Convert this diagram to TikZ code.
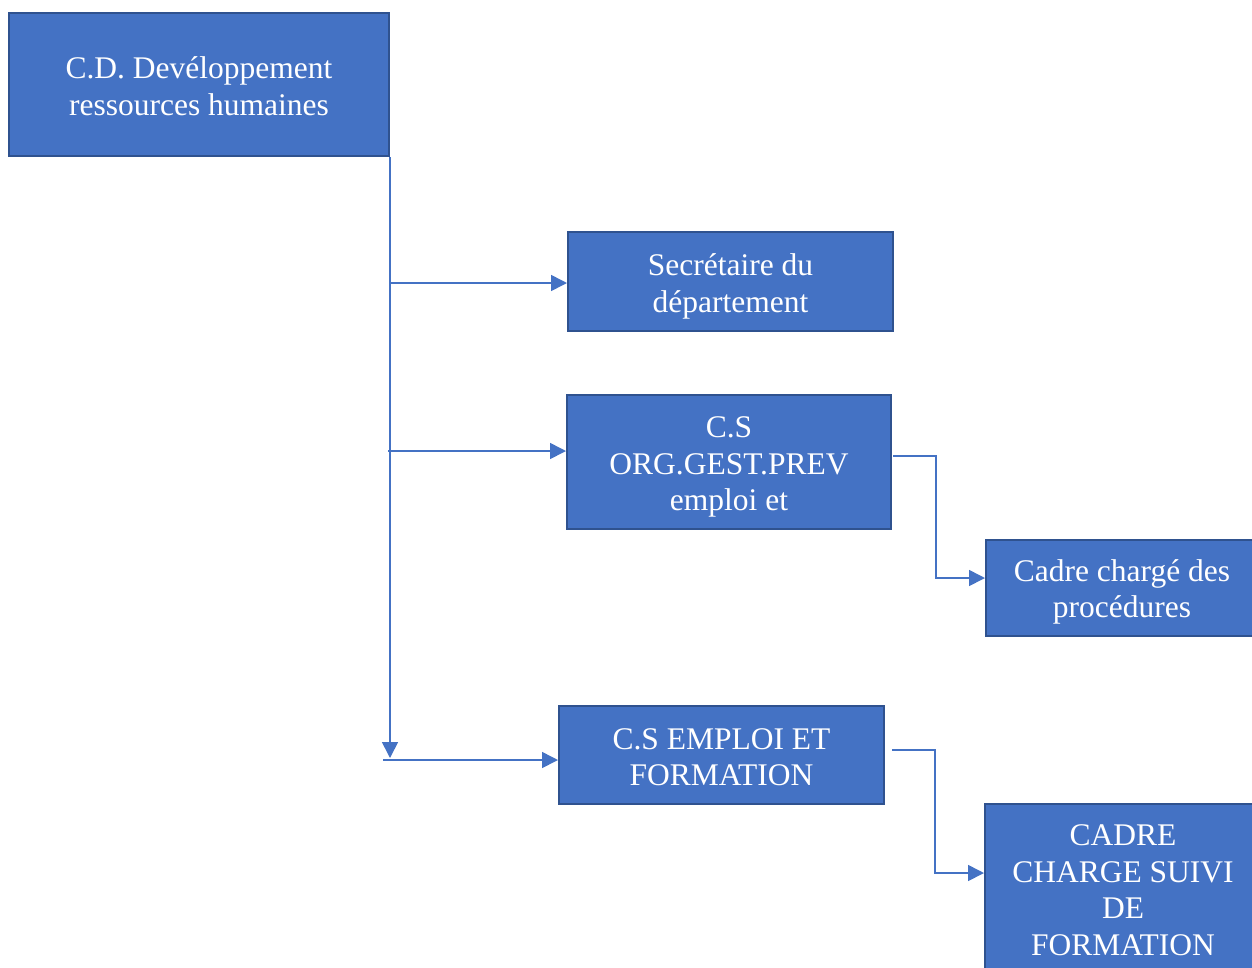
\documentclass[tikz,border=0pt]{standalone}
\usepackage{fontspec}
\setmainfont{Liberation Serif}
\usetikzlibrary{arrows.meta,calc}
\definecolor{boxfill}{HTML}{4472C4}
\definecolor{boxline}{HTML}{2F528F}
\definecolor{conncol}{HTML}{4472C4}
\tikzset{
  orgbox/.style={draw=boxline, line width=2pt, fill=boxfill, inner sep=0pt},
  boxtext/.style={text=white, align=center, inner sep=0pt, font=\fontsize{31.5}{36.5}\selectfont},
  conn/.style={draw=conncol, line width=1.6pt, -{Triangle[length=16pt,width=16pt]}}
}
\begin{document}
\begin{tikzpicture}[x=1pt,y=-1pt]
\useasboundingbox (0,0) rectangle (1252,967);
% boxes
\node[orgbox, minimum width=380pt, minimum height=143pt] (A) at (199,84.5) {};
\node[orgbox, minimum width=325pt, minimum height=99pt] (B) at (730.5,281.5) {};
\node[orgbox, minimum width=324pt, minimum height=134pt] (C) at (729,462) {};
\node[orgbox, minimum width=272pt, minimum height=96pt] (D) at (1122,588) {};
\node[orgbox, minimum width=325pt, minimum height=98pt] (E) at (721.5,755) {};
\node[orgbox, minimum width=276pt, minimum height=171pt] (F) at (1123,889.5) {};
% texts
\node[boxtext] (At) at ($(A.center)+(0,1.5)$) {C.D. Devéloppement\\ressources humaines};
\node[boxtext] (Bt) at ($(B.center)+(0,5)$) {Secrétaire du\\département};
\node[boxtext] (Ct) at ($(C.center)+(0,5)$) {C.S\\ORG.GEST.PREV\\emploi et};
\node[boxtext] (Dt) at ($(D.center)+(0,4)$) {Cadre chargé des\\procédures};
\node[boxtext] (Et) at ($(E.center)+(0,2)$) {C.S EMPLOI ET\\FORMATION};
\node[boxtext] (Ft) at ($(F.center)+(0,0.5)$) {CADRE\\CHARGE SUIVI\\DE\\FORMATION};
% coordinates
\coordinate (vend) at (389,758);
\coordinate (hB) at (391,283);
\coordinate (hC) at (388,451);
\coordinate (hE) at (383,760);
\coordinate (cOut) at (893,456);
\coordinate (eOut) at (892,750);
% connectors
\draw[conn] (A.south east) -- (A.south east |- vend);
\draw[conn] (hB) -- (hB -| B.west);
\draw[conn] (hC) -- (hC -| C.west);
\draw[conn] (hE) -- (hE -| E.west);
\draw[conn] (cOut) -- (936,456) -- (936,578) -- (D.west |- 0,578);
\draw[conn] (eOut) -- (935,750) -- (935,873) -- (F.west |- 0,873);
\end{tikzpicture}
\end{document}
